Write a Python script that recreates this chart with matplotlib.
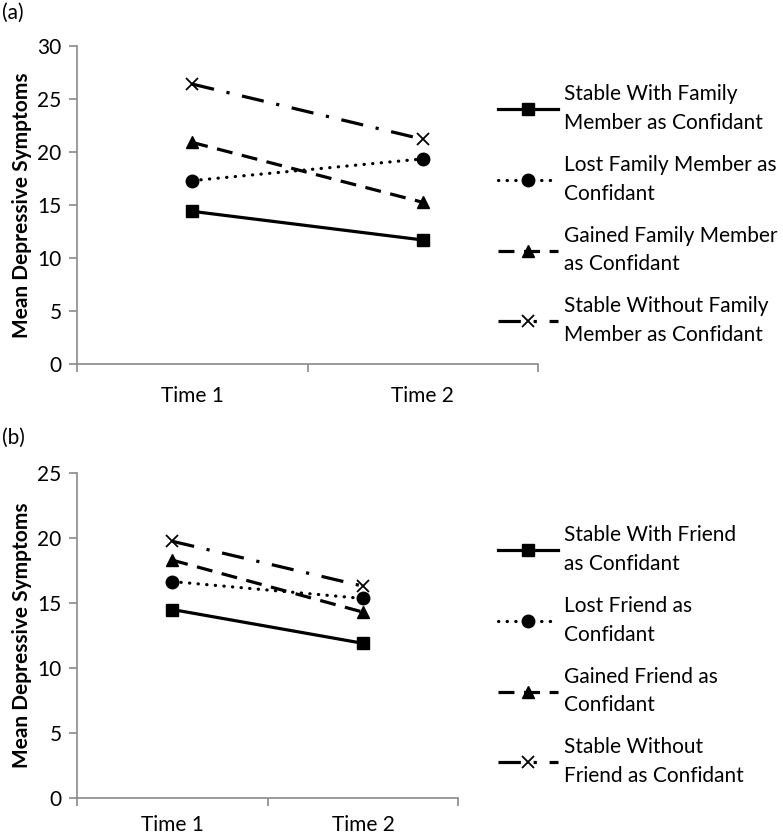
import matplotlib
matplotlib.use("Agg")
import matplotlib.pyplot as plt

# =========================
# Data
# =========================
times = ["Time 1", "Time 2"]

family_labels = [
    "Stable With Family\nMember as Confidant",
    "Lost Family Member as\nConfidant",
    "Gained Family Member\nas Confidant",
    "Stable Without Family\nMember as Confidant",
]
family_values = [
    [14.4, 11.7],
    [17.3, 19.35],
    [20.9, 15.25],
    [26.4, 21.2],
]

friend_labels = [
    "Stable With Friend\nas Confidant",
    "Lost Friend as\nConfidant",
    "Gained Friend as\nConfidant",
    "Stable Without\nFriend as Confidant",
]
friend_values = [
    [14.5, 11.9],
    [16.65, 15.35],
    [18.3, 14.3],
    [19.75, 16.3],
]

# =========================
# Styles
# =========================
plt.rcParams['font.family'] = ['Lato', 'DejaVu Sans']
FS = 15
GRAY = "#8a8a8a"

styles = [
    dict(marker='s', linestyle='-', markersize=9),
    dict(marker='o', linestyle=(0, (0.1, 2.6)), markersize=9, dash_capstyle='round'),
    dict(marker='^', linestyle=(0, (5, 3)), markersize=9),
    dict(marker='x', linestyle=(0, (7, 4, 1, 4)), markersize=9, markeredgewidth=1.3),
]

fig = plt.figure(figsize=(7.83, 8.35), dpi=100)


def draw_panel(rect, values, labels, ymax, legend_top, tag, tag_y, xpad):
    ax = fig.add_axes(rect)
    xs = [1, 2]
    handles = []
    for vals, st in zip(values, styles):
        h, = ax.plot(xs, vals, color='black', linewidth=2.3, **st)
        handles.append(h)

    ax.set_xlim(0.5, 2.5)
    ax.set_ylim(0, ymax)
    ax.set_yticks(range(0, ymax + 1, 5))
    ax.set_xticks(xs)
    ax.set_xticklabels(times)
    ax.set_xticks([0.5, 1.5, 2.5], minor=True)

    for side in ['top', 'right']:
        ax.spines[side].set_visible(False)
    for side in ['left', 'bottom']:
        ax.spines[side].set_color(GRAY)
        ax.spines[side].set_linewidth(1.2)

    ax.tick_params(axis='y', direction='out', length=6, width=1.2,
                   color=GRAY, labelsize=FS, pad=5)
    ax.tick_params(axis='x', which='major', length=0, labelsize=FS, pad=xpad)
    ax.tick_params(axis='x', which='minor', direction='out', length=6,
                   width=1.2, color=GRAY)

    ax.set_ylabel("Mean Depressive Symptoms", fontsize=FS, fontweight='bold',
                  labelpad=4)

    leg = fig.legend(handles, labels, loc='upper left',
                     bbox_to_anchor=(0.625, legend_top), frameon=False,
                     fontsize=FS, handlelength=2.9, handletextpad=0.3,
                     labelspacing=1.05, numpoints=1, borderaxespad=0)
    for t in leg.get_texts():
        t.set_linespacing(1.55)

    fig.text(0.002, tag_y, tag, fontsize=FS, va='center', ha='left')
    return ax


# =========================
# Panel (a)
# =========================
draw_panel([0.0983, 0.564, 0.589, 0.381], family_values, family_labels,
           30, 0.909, "(a)", 0.985, 16)

# =========================
# Panel (b)
# =========================
draw_panel([0.0983, 0.0443, 0.487, 0.3892], friend_values, friend_labels,
           25, 0.381, "(b)", 0.476, 12)

fig.savefig("out.png", dpi=100)
